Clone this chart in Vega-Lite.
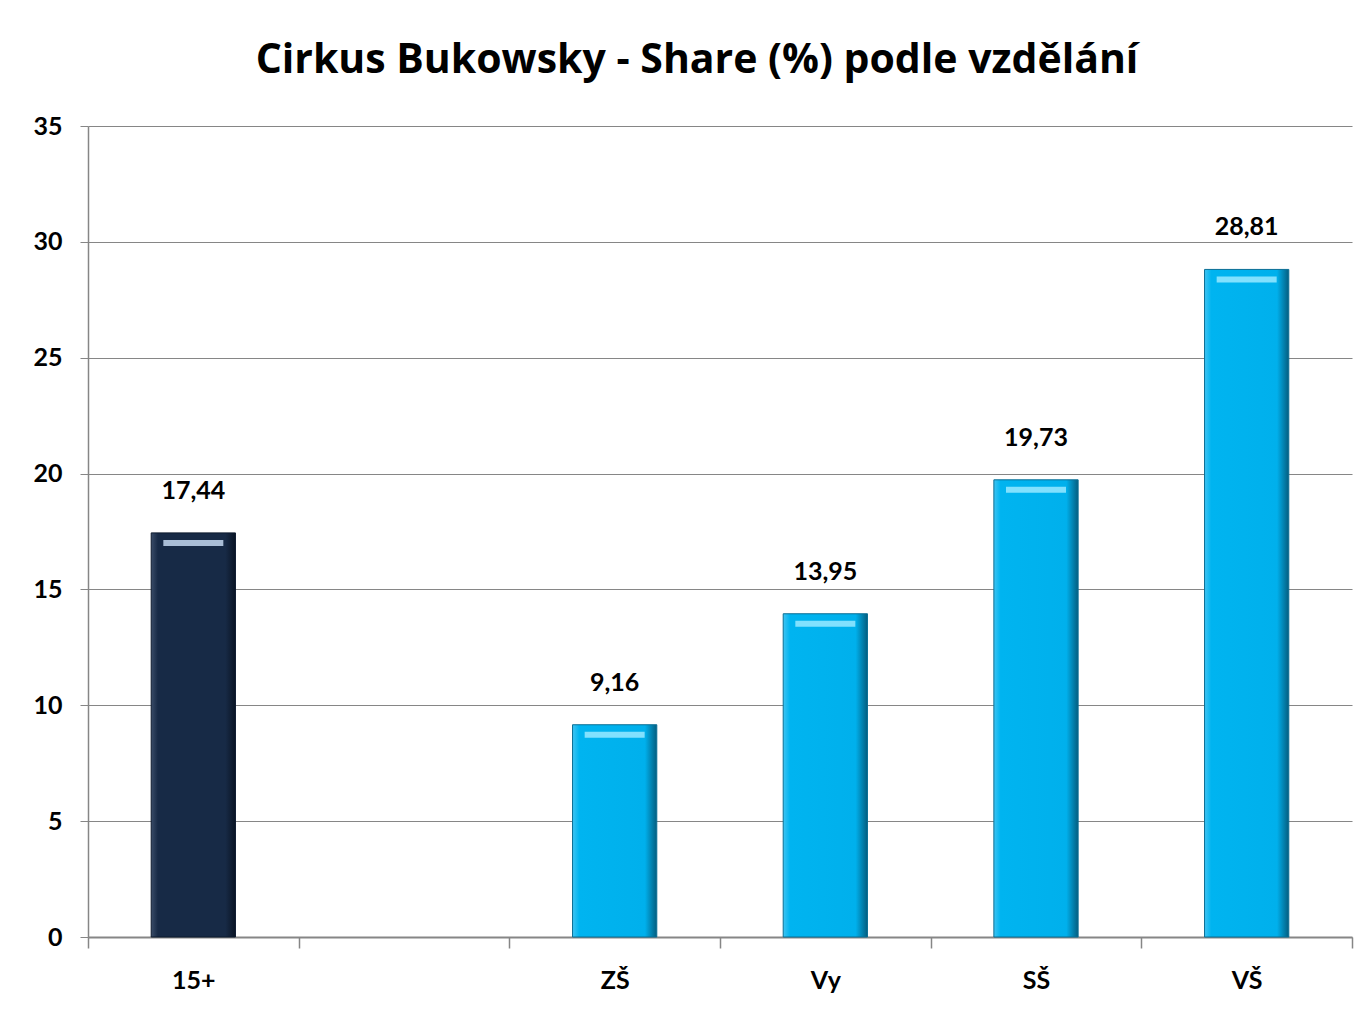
{
  "$schema": "https://vega.github.io/schema/vega-lite/v6.json",
  "width": 1264,
  "height": 811,
  "autosize": {"type": "none"},
  "padding": {"left": 88, "top": 126, "right": 14, "bottom": 77},
  "background": "white",
  "config": {
    "font": "Lato",
    "view": {"stroke": null},
    "locale": {"number": {"decimal": ",", "thousands": " ", "grouping": [3], "currency": ["", " Kč"]}}
  },
  "title": {
    "text": "Cirkus Bukowsky - Share (%) podle vzdělání",
    "font": "Open Sans",
    "fontSize": 41,
    "fontWeight": "bold",
    "color": "#000000",
    "anchor": "middle",
    "frame": "group",
    "dx": -23,
    "offset": 32
  },
  "data": {
    "values": [
      {"skupina": "15+", "share": 17.44, "typ": "celkem"},
      {"skupina": "ZŠ", "share": 9.16, "typ": "vzdelani"},
      {"skupina": "Vy", "share": 13.95, "typ": "vzdelani"},
      {"skupina": "SŠ", "share": 19.73, "typ": "vzdelani"},
      {"skupina": "VŠ", "share": 28.81, "typ": "vzdelani"}
    ]
  },
  "encoding": {
    "x": {
      "field": "skupina",
      "type": "nominal",
      "sort": null,
      "scale": {"domain": ["15+", " ", "ZŠ", "Vy", "SŠ", "VŠ"], "paddingInner": 0, "paddingOuter": 0},
      "axis": {
        "title": null,
        "labelAngle": 0,
        "labelFont": "Lato",
        "labelFontSize": 25,
        "labelFontWeight": "bold",
        "labelColor": "#000000",
        "labelPadding": 20,
        "tickBand": "extent",
        "tickSize": 11,
        "tickColor": "#868686",
        "domainColor": "#868686",
        "domainWidth": 2,
        "tickWidth": 1.5,
        "grid": false
      }
    },
    "y": {
      "field": "share",
      "type": "quantitative",
      "scale": {"domain": [0, 35], "nice": false},
      "axis": {
        "title": null,
        "values": [0, 5, 10, 15, 20, 25, 30, 35],
        "labelFont": "Lato",
        "labelFontSize": 25,
        "labelFontWeight": "bold",
        "labelColor": "#000000",
        "labelPadding": 18,
        "tickSize": 8,
        "tickColor": "#868686",
        "domainColor": "#868686",
        "domainWidth": 1.5,
        "grid": true,
        "gridColor": "#868686",
        "gridWidth": 1.2
      }
    }
  },
  "layer": [
    {
      "transform": [{"filter": "datum.typ === 'celkem'"}],
      "mark": {
        "type": "bar",
        "width": {"band": 0.4},
        "stroke": "#0d1a2e",
        "strokeWidth": 1,
        "color": {
          "gradient": "linear", "x1": 0, "x2": 1, "y1": 0, "y2": 0,
          "stops": [
            {"offset": 0, "color": "#3a4c68"},
            {"offset": 0.08, "color": "#172a46"},
            {"offset": 0.88, "color": "#172a46"},
            {"offset": 1, "color": "#0a1424"}
          ]
        }
      }
    },
    {
      "transform": [{"filter": "datum.typ === 'vzdelani'"}],
      "mark": {
        "type": "bar",
        "width": {"band": 0.4},
        "stroke": "#0a6e94",
        "strokeWidth": 1,
        "color": {
          "gradient": "linear", "x1": 0, "x2": 1, "y1": 0, "y2": 0,
          "stops": [
            {"offset": 0, "color": "#3fc4f2"},
            {"offset": 0.08, "color": "#00b4f0"},
            {"offset": 0.86, "color": "#00b0ec"},
            {"offset": 1, "color": "#045e80"}
          ]
        }
      }
    },
    {
      "transform": [{"filter": "datum.typ === 'celkem'"}],
      "mark": {"type": "tick", "color": "#b9cde6", "thickness": 6, "size": 60, "yOffset": 10, "opacity": 0.9}
    },
    {
      "transform": [{"filter": "datum.typ === 'vzdelani'"}],
      "mark": {"type": "tick", "color": "#8fe6ff", "thickness": 6, "size": 60, "yOffset": 10, "opacity": 0.9}
    },
    {
      "mark": {"type": "text", "font": "Lato", "fontSize": 25, "fontWeight": "bold", "color": "#000000", "baseline": "middle", "dy": -42},
      "encoding": {
        "text": {"field": "share", "type": "quantitative", "format": ".2f"}
      }
    }
  ]
}
